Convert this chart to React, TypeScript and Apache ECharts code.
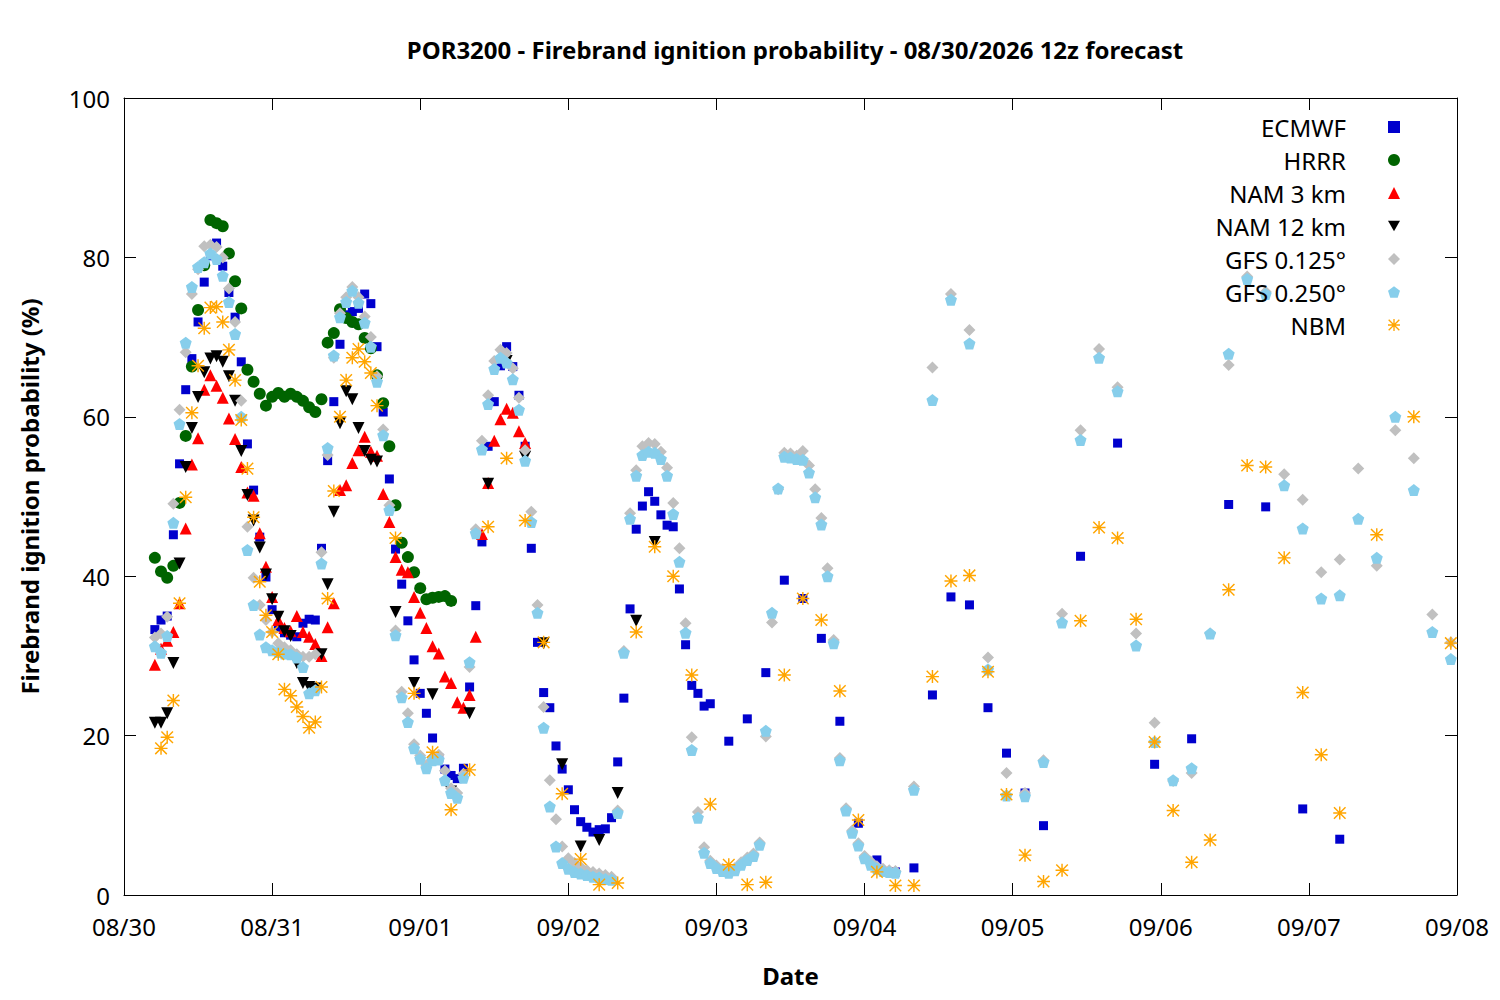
import { useEffect, useRef } from "react";
import * as echarts from "echarts";

// x values are hours since 08/30 00:00 (local); the 12z run starts at hour 5
const dateLabels = ["08/30", "08/31", "09/01", "09/02", "09/03", "09/04", "09/05", "09/06", "09/07", "09/08"];

const hours = (start: number, end: number, step: number) => {
  const out: number[] = [];
  for (let h = start; h <= end; h += step) out.push(h);
  return out;
};

const ecmwfHours = [...hours(5, 95, 1), ...hours(98, 149, 3), ...hours(155, 197, 6)];
const ecmwfValues = [
  33.3, 34.5, 35.0, 45.2, 54.1, 63.4, 67.3, 71.9, 76.9, 80.2, 81.8, 78.9, 75.6, 72.5, 66.9, 56.6, 50.8, 44.9, 39.9, 35.8,
  33.6, 32.9, 32.6, 32.4, 34.1, 34.6, 34.5, 43.5, 54.5, 61.9, 69.1, 72.8, 73.2, 73.6, 75.4, 74.2, 68.8, 60.6, 52.2, 43.4,
  39.0, 34.4, 29.5, 25.3, 22.8, 19.7, 17.2, 15.8, 15.0, 14.6, 15.9, 26.1, 36.3, 44.3, 56.3, 61.9, 66.4, 68.8, 66.3, 62.7,
  56.3, 43.5, 31.7, 25.4, 23.5, 18.7, 15.8, 13.2, 10.7, 9.2, 8.5, 7.9, 8.2, 8.3, 9.7, 16.7, 24.7, 35.9, 45.9, 48.8,
  50.6, 49.4, 47.7, 46.4, 46.2, 38.4, 31.4, 26.3, 25.3, 23.7, 24.0,
  19.3, 22.1, 27.9, 39.5, 37.2, 32.2, 21.8, 9.0, 4.4, 2.9, 3.4, 25.1, 37.4, 36.4, 23.5, 17.8, 12.8, 8.7,
  42.5, 56.7, 16.4, 19.6, 49.0, 48.7, 10.8, 7.0,
];

const hrrrHours = hours(5, 53, 1);
const hrrrValues = [
  42.3, 40.6, 39.8, 41.3, 49.2, 57.6, 66.3, 73.4, 79.0, 84.7, 84.3, 83.9, 80.5, 77.0, 73.6, 65.9, 64.4, 62.9, 61.4, 62.5,
  63.0, 62.5, 62.9, 62.5, 62.0, 61.2, 60.6, 62.2, 69.3, 70.5, 73.5, 72.4, 71.9, 71.6, 69.9, 68.6, 65.2, 61.7, 56.3, 48.9,
  44.2, 42.4, 40.5, 38.5, 37.1, 37.3, 37.4, 37.5, 36.9,
];

const nam3Hours = hours(5, 65, 1);
const nam3Values = [
  28.9, 30.9, 31.9, 33.0, 36.6, 46.0, 54.0, 57.3, 63.4, 65.2, 63.9, 62.4, 59.8, 57.2, 53.7, 50.5, 50.1, 45.4, 41.2, 37.4,
  34.5, 33.5, 33.1, 35.0, 33.0, 32.4, 31.5, 30.0, 33.6, 36.6, 50.8, 51.4, 54.2, 55.8, 57.5, 55.6, 55.1, 50.3, 46.8, 42.4,
  40.8, 40.5, 37.4, 35.4, 33.5, 31.2, 30.3, 27.4, 26.6, 24.2, 23.5, 25.1, 32.4, 45.3, 51.7, 57.0, 59.7, 61.0, 60.5, 58.2,
  56.7,
];

const nam12Hours = [...hours(5, 41, 1), ...hours(44, 86, 3)];
const nam12Values = [
  21.6, 21.6, 22.8, 29.1, 41.6, 53.7, 58.6, 62.5, 65.6, 67.3, 67.6, 66.9, 65.1, 62.0, 55.7, 50.2, 47.0, 43.6, 40.2, 37.1,
  34.9, 33.1, 32.5, 29.1, 26.6, 26.1, 25.9, 30.2, 39.0, 48.1, 59.2, 63.2, 62.2, 58.6, 55.7, 54.6, 54.4,
  35.5, 26.6, 25.2, 13.0, 22.8, 51.6, 67.0, 55.0, 31.6, 16.4, 6.1, 6.9, 12.8, 34.4, 44.3,
];

const gfsHours = [...hours(5, 125, 1), ...hours(128, 215, 3)];
const gfs0125Values = [
  32.3, 32.8, 34.9, 49.1, 60.9, 68.1, 75.4, 78.5, 81.4, 81.6, 81.3, 80.0, 76.1, 71.9, 62.0, 46.2, 39.8, 36.4, 34.5, 33.0,
  31.6, 31.1, 30.7, 30.2, 29.9, 29.9, 30.2, 43.0, 55.2, 67.4, 73.0, 75.0, 76.3, 75.0, 72.6, 70.0, 65.1, 58.4, 48.9, 33.2,
  25.5, 22.8, 18.9, 17.5, 16.3, 17.3, 17.6, 15.6, 13.4, 12.8, 15.2, 28.6, 45.9, 57.0, 62.7, 67.0, 68.4, 68.0, 66.1, 62.4,
  55.8, 48.1, 36.4, 23.6, 14.4, 9.5, 6.1, 4.6, 4.0, 3.5, 3.1, 2.9, 2.7, 2.5, 2.3, 10.6, 30.6, 47.9, 53.3, 56.3,
  56.7, 56.6, 55.6, 53.6, 49.2, 43.5, 34.1, 19.8, 10.4, 6.0, 4.3, 3.7, 3.3, 3.1, 3.4, 4.1, 4.7, 5.2, 6.6, 19.9,
  34.2, 50.9, 55.5, 55.4, 55.1, 55.7, 53.9, 50.9, 47.3, 41.0, 32.0, 17.2, 10.9, 8.1, 6.5, 4.9, 4.2, 3.6, 3.3, 3.1,
  3.0,
  13.6, 66.2, 75.4, 70.9, 29.8, 15.3, 12.8, 16.9, 35.3, 58.3, 68.5, 63.7, 32.8, 21.6, 14.3, 15.3, 32.8, 66.5, 77.6, 75.7,
  52.8, 49.6, 40.5, 42.1, 53.5, 41.3, 58.3, 54.8, 35.2, 31.7,
];
const gfs0250Values = [
  31.2, 30.4, 32.5, 46.7, 59.1, 69.3, 76.3, 78.8, 79.4, 80.5, 79.8, 77.7, 74.4, 70.4, 60.0, 43.3, 36.4, 32.7, 31.1, 30.7,
  30.5, 30.3, 30.2, 29.8, 28.6, 25.3, 25.7, 41.6, 56.1, 67.7, 72.5, 74.4, 75.8, 74.3, 71.8, 68.8, 64.4, 57.7, 48.3, 32.6,
  24.8, 21.7, 18.4, 17.1, 15.9, 16.9, 17.0, 14.4, 12.8, 12.2, 14.7, 29.2, 45.4, 55.9, 61.6, 66.0, 67.4, 66.8, 64.7, 60.9,
  54.5, 46.8, 35.4, 21.0, 11.1, 6.1, 4.0, 3.3, 2.9, 2.7, 2.5, 2.3, 2.2, 2.0, 1.9, 10.3, 30.4, 47.2, 52.6, 55.2,
  55.6, 55.5, 54.7, 52.6, 47.8, 41.8, 32.9, 18.2, 9.7, 5.3, 4.0, 3.4, 3.0, 2.8, 3.1, 3.8, 4.4, 4.9, 6.3, 20.6,
  35.4, 51.0, 55.0, 54.9, 54.7, 54.6, 53.0, 49.9, 46.5, 40.0, 31.6, 16.9, 10.6, 7.8, 6.2, 4.6, 3.8, 3.3, 3.0, 2.9,
  2.8,
  13.2, 62.1, 74.7, 69.2, 28.3, 12.5, 12.4, 16.7, 34.2, 57.1, 67.4, 63.2, 31.3, 19.2, 14.4, 15.9, 32.8, 67.9, 77.3, 75.4,
  51.4, 46.0, 37.2, 37.6, 47.2, 42.3, 60.0, 50.8, 33.0, 29.6,
];

const nbmHours = [...hours(6, 41, 1), ...hours(44, 197, 3), ...hours(203, 215, 6)];
const nbmValues = [
  18.4, 19.8, 24.4, 36.6, 49.9, 60.5, 66.4, 71.1, 73.7, 73.8, 71.9, 68.4, 64.6, 59.6, 53.5, 47.4, 39.3, 35.1, 33.0, 30.2,
  25.8, 25.0, 23.6, 22.4, 21.0, 21.7, 26.1, 37.2, 50.7, 60.0, 64.6, 67.4, 68.5, 66.9, 65.5, 61.4,
  44.8, 25.3, 17.9, 10.7, 15.7, 46.2, 54.8, 47.0, 31.7, 12.7, 4.5, 1.3, 1.5, 33.0, 43.7, 40.0, 27.6, 11.4, 3.8, 1.3,
  1.6, 27.6, 37.2, 34.5, 25.6, 9.4, 2.9, 1.2, 1.2, 27.4, 39.4, 40.1, 28.0, 12.6, 5.0, 1.7, 3.1, 34.4, 46.1, 44.8,
  34.6, 19.2, 10.6, 4.1, 6.9, 38.3, 53.9, 53.7, 42.3, 25.4, 17.6, 10.3,
  45.2, 60.0, 31.6,
];

const PENTAGON = "path://M10 0L19.51 6.91L15.88 18.09L4.12 18.09L0.49 6.91Z";
const DOWN_TRIANGLE = "path://M0 0L20 0L10 17.3Z";
const ASTERISK =
  "path://M1 9H19V11H1Z M9 1H11V19H9Z M2.7 1.3L18.7 17.3L17.3 18.7L1.3 2.7Z M17.3 1.3L18.7 2.7L2.7 18.7L1.3 17.3Z";

const pair = (hs: number[], vs: number[]) => hs.map((h, i) => [h, vs[i]]);

const FONT = "Noto Sans";

const App = () => {
  const chartRef = useRef<HTMLDivElement>(null);

  useEffect(() => {
    if (!chartRef.current) return;
    const chart = echarts.init(chartRef.current, undefined, { renderer: "svg" });

    const scatter = (name: string, data: number[][], symbol: string, size: number, color: string) => ({
      name,
      type: "scatter",
      data,
      symbol,
      symbolSize: size,
      itemStyle: { color, opacity: 1 },
      emphasis: { disabled: true },
    });

    // gnuplot-style frame: inward ticks, mirrored on top and right
    const tick = () => ({ show: true, inside: true, length: 12, lineStyle: { color: "#000", width: 1 } });
    const line = () => ({ show: true, onZero: false, lineStyle: { color: "#000", width: 1 } });

    chart.setOption({
      animation: false,
      textStyle: { fontFamily: FONT },
      title: {
        text: "POR3200 - Firebrand ignition probability - 08/30/2026 12z forecast",
        left: 790,
        textAlign: "center",
        top: 32,
        textStyle: { fontFamily: FONT, fontSize: 24, fontWeight: "bold", color: "#000" },
      },
      legend: {
        orient: "vertical",
        right: 95,
        top: 110,
        align: "right",
        itemWidth: 12,
        itemHeight: 12,
        itemGap: 9,
        textStyle: { fontFamily: FONT, fontSize: 24, color: "#000", padding: [0, 37, 0, 0] },
      },
      grid: { left: 124, right: 43, top: 98, bottom: 105 },
      xAxis: [
        {
          type: "value",
          min: 0,
          max: 216,
          interval: 24,
          position: "bottom",
          axisLine: line(),
          axisTick: tick(),
          splitLine: { show: false },
          axisLabel: {
            formatter: (v: number) => dateLabels[Math.round(v / 24)],
            fontFamily: FONT,
            fontSize: 24,
            color: "#000",
            margin: 19,
          },
          name: "Date",
          nameLocation: "middle",
          nameGap: 68,
          nameTextStyle: { fontFamily: FONT, fontSize: 24, fontWeight: "bold", color: "#000" },
        },
        {
          type: "value",
          min: 0,
          max: 216,
          interval: 24,
          position: "top",
          axisLine: line(),
          axisTick: tick(),
          splitLine: { show: false },
          axisLabel: { show: false },
        },
      ],
      yAxis: [
        {
          type: "value",
          min: 0,
          max: 100,
          interval: 20,
          position: "left",
          axisLine: line(),
          axisTick: tick(),
          splitLine: { show: false },
          axisLabel: { fontFamily: FONT, fontSize: 24, color: "#000", margin: 14 },
          name: "Firebrand ignition probability (%)",
          nameLocation: "middle",
          nameGap: 83,
          nameTextStyle: { fontFamily: FONT, fontSize: 24, fontWeight: "bold", color: "#000" },
        },
        {
          type: "value",
          min: 0,
          max: 100,
          interval: 20,
          position: "right",
          axisLine: line(),
          axisTick: tick(),
          splitLine: { show: false },
          axisLabel: { show: false },
        },
      ],
      series: [
        scatter("ECMWF", pair(ecmwfHours, ecmwfValues), "rect", 9, "#0000cd"),
        scatter("HRRR", pair(hrrrHours, hrrrValues), "circle", 12, "#006400"),
        scatter("NAM 3 km", pair(nam3Hours, nam3Values), "triangle", 12, "#ff0000"),
        scatter("NAM 12 km", pair(nam12Hours, nam12Values), DOWN_TRIANGLE, 12, "#000000"),
        scatter("GFS 0.125°", pair(gfsHours, gfs0125Values), "diamond", 12, "#c0c0c0"),
        scatter("GFS 0.250°", pair(gfsHours, gfs0250Values), PENTAGON, 12, "#87ceeb"),
        scatter("NBM", pair(nbmHours, nbmValues), ASTERISK, 13, "#ffa500"),
      ],
    });

    return () => {
      chart.dispose();
    };
  }, []);

  return (
    <div
      ref={chartRef}
      style={{ position: "fixed", left: 0, top: 0, width: "1500px", height: "1000px", background: "#fff" }}
    />
  );
};

export default App;
